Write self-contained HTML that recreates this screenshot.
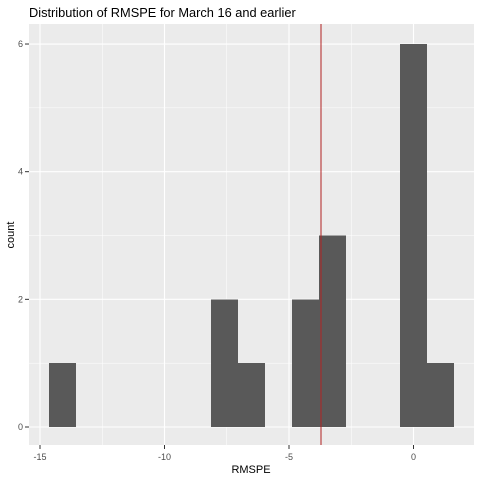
<!DOCTYPE html>
<html><head><meta charset="utf-8"><style>
body{margin:0;background:#fff;font-family:"Liberation Sans",Arial,sans-serif}
</style></head><body>
<svg id="c" width="480" height="480" xmlns="http://www.w3.org/2000/svg">
<rect x="0" y="0" width="480" height="480" fill="#fff"/>
<text x="29" y="17" font-size="12.8" fill="#000">Distribution of RMSPE for March 16 and earlier</text>
<rect x="29" y="24" width="445" height="421" fill="#EBEBEB"/>
<g id="grid"></g><g id="bars" shape-rendering="crispEdges"></g><g id="axes"></g>
<text x="251" y="473" font-size="11" text-anchor="middle" fill="#000">RMSPE</text>
<text transform="translate(14,235) rotate(-90)" font-size="11" text-anchor="middle" fill="#000">count</text>
</svg>
<script>
const binStart = -14.64;
const binWidth = 1.085;
const counts = [1,0,0,0,0,0,2,1,0,2,3,0,0,6,1];
const xTicks = [-15,-10,-5,0];
const yTicks = [0,2,4,6];
const refLine = -3.72;
const NS="http://www.w3.org/2000/svg";
const X=v=>413.5+v*24.9;
const Y=v=>427-v*63.83;
function mk(t,a,p){const e=document.createElementNS(NS,t);for(const k in a)e.setAttribute(k,a[k]);p.appendChild(e);return e;}
const g=document.getElementById('grid'),b=document.getElementById('bars'),ax=document.getElementById('axes');
for(let i=0;i<xTicks.length;i++){const v=xTicks[i];
 const l=mk('line',{x1:X(v),x2:X(v),y1:24,y2:445,stroke:'#fff','stroke-width':1.1},g);
 
 
 if(i<xTicks.length-1){const m=mk('line',{x1:X(v+2.5),x2:X(v+2.5),y1:24,y2:445,stroke:'#fff','stroke-width':0.5},g);
 
 }
 mk('line',{x1:X(v),x2:X(v),y1:445,y2:449,stroke:'#333'},ax);
 const t=mk('text',{x:X(v),y:460,'font-size':9,'text-anchor':'middle',fill:'#4D4D4D'},ax);t.textContent=v;
 
 
}
{const m=mk('line',{x1:X(2.5),x2:X(2.5),y1:24,y2:445,stroke:'#fff','stroke-width':0.5},g);

}
for(let i=0;i<yTicks.length;i++){const v=yTicks[i];
 const l=mk('line',{x1:29,x2:474,y1:Y(v),y2:Y(v),stroke:'#fff','stroke-width':1.1},g);
 
 
 const m=mk('line',{x1:29,x2:474,y1:Y(v+1),y2:Y(v+1),stroke:'#fff','stroke-width':0.5},g);
 
 
 mk('line',{x1:25,x2:29,y1:Y(v),y2:Y(v),stroke:'#333'},ax);
 const t=mk('text',{x:23,y:Y(v)+3,'font-size':9,'text-anchor':'end',fill:'#4D4D4D'},ax);t.textContent=v;
 
 
}
counts.forEach((c,i)=>{if(!c)return;
 const x0=Math.round(X(binStart+i*binWidth)),x1=Math.round(X(binStart+(i+1)*binWidth));
 const r=mk('rect',{x:x0,y:Y(c),width:x1-x0,height:Y(0)-Y(c),fill:'#595959'},b);
 
 
});
const rl=mk('line',{x1:X(refLine),x2:X(refLine),y1:24,y2:445,stroke:'#B22222','stroke-width':1},b);


</script>
</body></html>
